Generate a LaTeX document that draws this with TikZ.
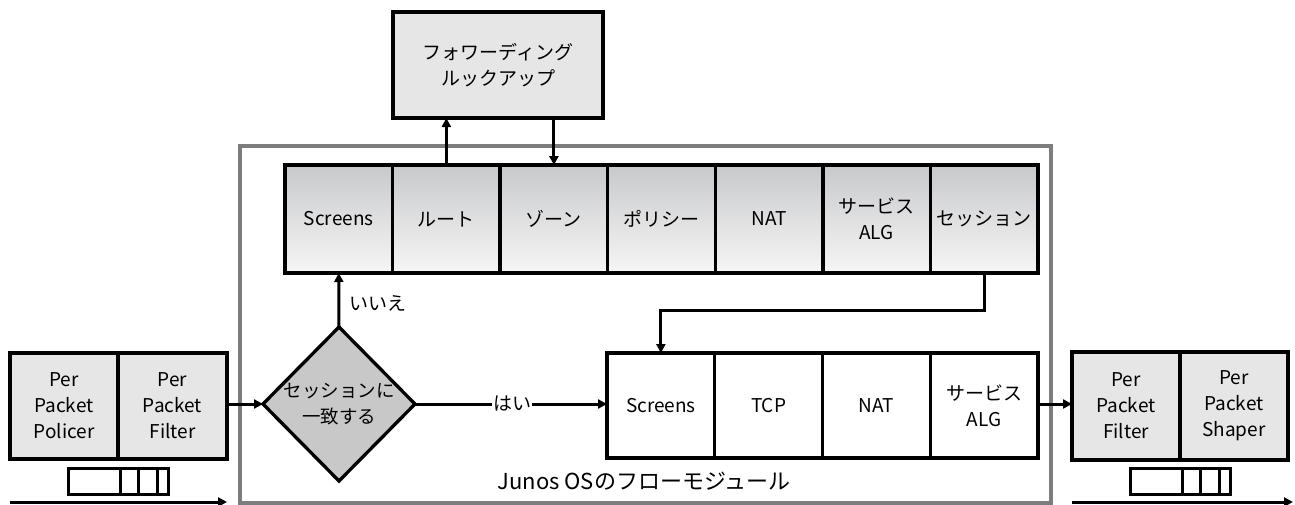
\documentclass[tikz,border=0pt]{standalone}
\usepackage{fontspec}
\newfontfamily\jp{Noto Sans CJK JP}
\usetikzlibrary{shapes.geometric,arrows.meta}
\definecolor{boxgray}{RGB}{230,230,231}
\definecolor{diagray}{RGB}{200,200,200}
\definecolor{shadetop}{RGB}{200,201,203}
\definecolor{shadebot}{RGB}{246,246,246}
\definecolor{framegray}{RGB}{125,125,125}
\begin{document}
\begin{tikzpicture}[x=1pt,y=-1pt,
  txt/.style={font=\jp\fontsize{19}{26}\selectfont, align=center},
  base/.style={txt, draw=black, line width=3.3pt, inner sep=0pt, outer sep=0pt, anchor=north west},
  topcell/.style={base, top color=shadetop, bottom color=shadebot, minimum width=107.57pt, minimum height=108pt},
  botcell/.style={base, fill=white, minimum width=107.75pt, minimum height=105pt},
  graybox/.style={base, fill=boxgray, minimum height=106pt},
  arr/.style={line width=3pt, -{Triangle[length=9pt,width=9pt]}},
  plain/.style={line width=3pt},
  qline/.style={line width=3pt}
]
\useasboundingbox (0,0) rectangle (1295,504);

% flow module frame
\node[draw=framegray, line width=3.5pt, minimum width=811pt, minimum height=357pt,
      inner sep=0pt, outer sep=0pt, anchor=north west] (flow) at (240,146) {};
\node[font=\jp\fontsize{22}{26}\selectfont] (flowlbl) at (644,481) {Junos OSのフローモジュール};

% forwarding lookup
\node[graybox, minimum width=210pt] (fwd) at (393,12) {フォワーディング\\ルックアップ};

% top row
\node[topcell] (tscr) at (285,165) {Screens};
\node[topcell] (troute) at (tscr.north east) {ルート};
\node[topcell] (tzone) at (troute.north east) {ゾーン};
\node[topcell] (tpol) at (tzone.north east) {ポリシー};
\node[topcell] (tnat) at (tpol.north east) {NAT};
\node[topcell] (talg) at (tnat.north east) {サービス\\ALG};
\node[topcell] (tsess) at (talg.north east) {セッション};

% bottom row
\node[botcell] (bscr) at (607,353) {Screens};
\node[botcell] (btcp) at (bscr.north east) {TCP};
\node[botcell] (bnat) at (btcp.north east) {NAT};
\node[botcell] (balg) at (bnat.north east) {サービス\\ALG};

% decision diamond
\node[diamond, draw=black, fill=diagray, line width=3.3pt, minimum width=152pt,
      minimum height=154pt, inner sep=0pt, outer sep=0pt] (dia) at (339,404) {};
\node[txt, font=\jp\fontsize{18.5}{26}\selectfont] (diatxt) at (dia.center) {セッションに\\一致する};

% left boxes
\node[graybox, minimum width=108pt] (lpol) at (10,353) {Per\\Packet\\Policer};
\node[graybox, minimum width=109pt] (lfil) at (lpol.north east) {Per\\Packet\\Filter};

% right boxes
\node[graybox, minimum width=108pt, minimum height=108pt] (rfil) at (1072,352) {Per\\Packet\\Filter};
\node[graybox, minimum width=108pt, minimum height=108pt] (rshp) at (rfil.north east) {Per\\Packet\\Shaper};

% labels
\node[txt, anchor=west, inner sep=0pt] (no) at (349,303) {いいえ};
\node[txt, inner sep=1pt] (yes) at (512,404) {はい};

% connectors
\draw[arr] (troute.north) -- (troute.north |- fwd.south);
\draw[arr] (fwd.south -| tzone.north) -- (tzone.north);
\draw[arr] (dia.north) -- (tscr.south);
\draw[plain] (dia.east) -- (yes.west);
\draw[arr] (yes.east) -- (bscr.west |- yes);
\draw[arr] (tsess.south) -- ++(0,37) -| (bscr.north);
\draw[arr] (lfil.east |- dia) -- (dia.west);
\draw[arr] (balg.east |- dia) -- (rfil.west |- dia);

% queues
\draw[qline] (68,468) rectangle (168,494);
\draw[qline] (120,468) -- (120,494) (138,468) -- (138,494) (157,468) -- (157,494);
\draw[qline] (1130,468) rectangle (1230,494);
\draw[qline] (1182,468) -- (1182,494) (1200,468) -- (1200,494) (1219,468) -- (1219,494);

% traffic arrows
\coordinate (lin1) at (10,502);
\coordinate (lin2) at (227,502);
\coordinate (rout1) at (1072,502);
\coordinate (rout2) at (1293,502);
\draw[arr] (lin1) -- (lin2);
\draw[arr] (rout1) -- (rout2);
\end{tikzpicture}
\end{document}
